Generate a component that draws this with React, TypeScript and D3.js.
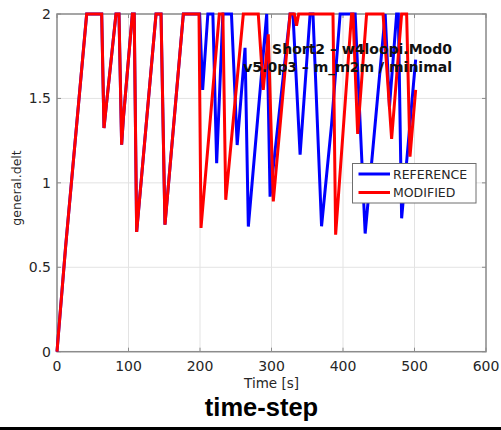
import React from "react";
import * as d3 from "d3";

const modTime = [0, 12, 41.5, 62.5, 65.7, 69.5, 82.5, 86.7, 90.4, 92.8, 105.4, 108, 111.4, 138.5, 145.5, 151, 176.7, 198.6, 201.4, 227, 232, 236, 260.6, 281.5, 288.5, 295.5, 302.5, 326, 332, 335, 338, 386, 389.7, 412, 414, 420.5, 433, 456, 468, 482, 489, 493.7, 501.6];
const modValue = [0, 0.62, 2, 2, 1.325, 1.48, 2, 2, 1.226, 1.38, 2, 2, 0.709, 2, 2, 0.752, 2, 2, 0.733, 2, 2, 0.9, 2, 2, 1.55, 1.88, 0.89, 2, 2, 1.93, 2, 2, 0.693, 2, 2, 1.29, 2, 2, 1.26, 2, 2, 1.155, 1.55];

const refTime = [0, 12, 41.5, 62.5, 65.7, 69.5, 82.5, 86.7, 90.4, 92.8, 105.4, 108, 111.4, 138.5, 145.5, 151, 176.7, 199.5, 203.7, 211, 218, 223.3, 232, 244, 252, 263, 267.6, 293.3, 298, 326, 330, 340, 354, 358, 370, 384, 396, 417, 431, 459, 465, 475, 477.4, 482, 501.6];
const refValue = [0, 0.62, 2, 2, 1.325, 1.48, 2, 2, 1.226, 1.38, 2, 2, 0.709, 2, 2, 0.752, 2, 2, 1.55, 2, 2, 1.117, 2, 2, 1.224, 1.8, 0.741, 2, 0.918, 2, 2, 1.167, 2, 2, 0.743, 1.345, 2, 2, 0.7, 2, 1.45, 2, 2, 0.79, 1.73];

const xTicks = [0, 100, 200, 300, 400, 500, 600];
const yTicks = [0, 0.5, 1, 1.5, 2];
const yTickLabels = ["0", "0.5", "1", "1.5", "2"];
const seriesNames = ["REFERENCE", "MODIFIED"];
const seriesColors = ["#0000ff", "#ff0000"];
const titleLines = ["Short2 – w4loopi.Mod0", "v5.0p3 – m_m2m / minimal"];

const W = 501;
const H = 430;
const left = 57, right = 486, top = 14, bottom = 351.7;

export default function App() {
  const x = d3.scaleLinear().domain([0, 600]).range([left, right]);
  const y = d3.scaleLinear().domain([0, 2]).range([bottom, top]);
  const line = d3
    .line<[number, number]>()
    .x((d) => x(d[0]))
    .y((d) => y(d[1]));
  const refPts: [number, number][] = refTime.map((t, i) => [t, refValue[i]]);
  const modPts: [number, number][] = modTime.map((t, i) => [t, modValue[i]]);
  const font = "'DejaVu Sans', sans-serif";
  const axisColor = "#8c8c8c";
  const textColor = "#262626";
  const tickLen = 4;

  const lx0 = 352.5, ly0 = 163.5, lw = 123.5, lh = 39.5;

  return (
    <svg
      width={W}
      height={H}
      style={{ position: "absolute", left: 0, top: 0, background: "#fff" }}
    >
      <rect x={0} y={0} width={W} height={H} fill="#fff" />
      {/* grid */}
      {xTicks.map((t) => (
        <line key={"gx" + t} x1={x(t)} x2={x(t)} y1={top} y2={bottom} stroke="#e3e3e3" strokeWidth={1} />
      ))}
      {yTicks.map((t) => (
        <line key={"gy" + t} x1={left} x2={right} y1={y(t)} y2={y(t)} stroke="#e3e3e3" strokeWidth={1} />
      ))}
      {/* box */}
      <rect x={left} y={top} width={right - left} height={bottom - top} fill="none" stroke={axisColor} strokeWidth={1.5} />
      {/* ticks */}
      {xTicks.map((t) => (
        <g key={"tx" + t}>
          <line x1={x(t)} x2={x(t)} y1={bottom} y2={bottom - tickLen} stroke={axisColor} strokeWidth={1} />
          <line x1={x(t)} x2={x(t)} y1={top} y2={top + tickLen} stroke={axisColor} strokeWidth={1} />
          <text x={x(t)} y={371} textAnchor="middle" fontFamily={font} fontSize={14} fill={textColor}>
            {t}
          </text>
        </g>
      ))}
      {yTicks.map((t, i) => (
        <g key={"ty" + t}>
          <line x1={left} x2={left + tickLen} y1={y(t)} y2={y(t)} stroke={axisColor} strokeWidth={1} />
          <line x1={right} x2={right - tickLen} y1={y(t)} y2={y(t)} stroke={axisColor} strokeWidth={1} />
          <text x={51} y={y(t) + 5} textAnchor="end" fontFamily={font} fontSize={14} fill={textColor}>
            {yTickLabels[i]}
          </text>
        </g>
      ))}
      {/* data */}
      <path d={line(refPts) || ""} fill="none" stroke={seriesColors[0]} strokeWidth={3} />
      <path d={line(modPts) || ""} fill="none" stroke={seriesColors[1]} strokeWidth={3} />
      {/* title */}
      <text x={452} y={54} textAnchor="end" fontFamily={font} fontWeight="bold" fontSize={14} fill="#111">
        {titleLines[0]}
      </text>
      <text x={452} y={71.5} textAnchor="end" fontFamily={font} fontWeight="bold" fontSize={14} fill="#111">
        {titleLines[1]}
      </text>
      {/* legend */}
      <rect x={lx0} y={ly0} width={lw} height={lh} fill="#fff" stroke="#6e6e6e" strokeWidth={1} />
      {seriesNames.map((n, i) => (
        <g key={n}>
          <line x1={358.5} x2={390} y1={174 + i * 18.5} y2={174 + i * 18.5} stroke={seriesColors[i]} strokeWidth={3} />
          <text x={393} y={178.5 + i * 18.5} fontFamily={font} fontSize={12.5} fill={textColor}>
            {n}
          </text>
        </g>
      ))}
      {/* axis labels */}
      <text x={(left + right) / 2} y={388} textAnchor="middle" fontFamily={font} fontSize={13.5} fill={textColor}>
        Time [s]
      </text>
      <text
        transform={`translate(21,${188}) rotate(-90)`}
        textAnchor="middle"
        fontFamily={font}
        fontSize={12.5}
        fill={textColor}
      >
        general.delt
      </text>
      <text x={261.5} y={416} textAnchor="middle" fontFamily="'Liberation Sans', Arial, sans-serif" fontWeight="bold" fontSize={25.5} fill="#000">
        time-step
      </text>
      <rect x={0} y={427} width={W} height={3} fill="#000" />
    </svg>
  );
}
